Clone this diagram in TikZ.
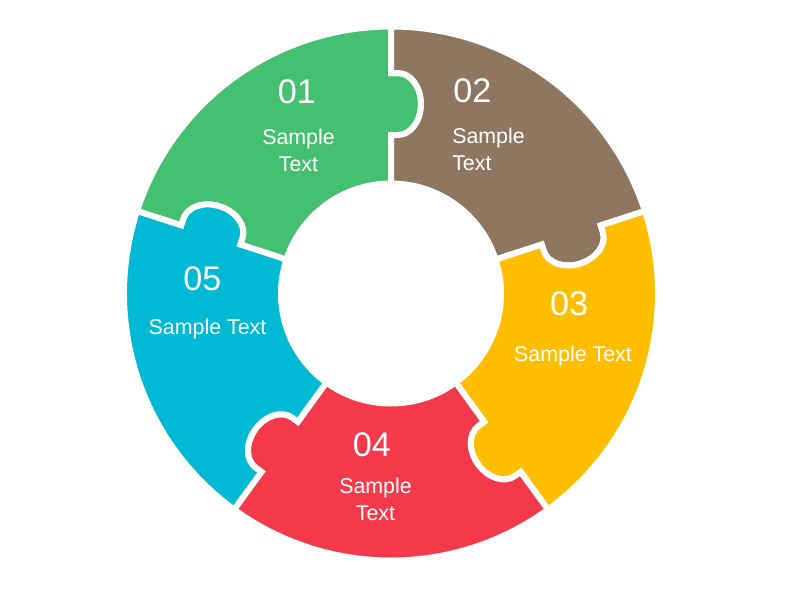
\documentclass[tikz,border=0pt]{standalone}
\usepackage{fontspec}
\setmainfont{Liberation Sans}
\definecolor{PieceGreen}{RGB}{68,192,112}
\definecolor{PieceBrown}{RGB}{142,118,96}
\definecolor{PieceYellow}{RGB}{255,191,0}
\definecolor{PieceRed}{RGB}{243,57,74}
\definecolor{PieceBlue}{RGB}{0,186,212}
\tikzset{
  piece/.style={draw=white,line width=0.15cm},
  numtext/.style={text=white,font=\fontsize{24.3}{29}\selectfont,inner sep=0pt,anchor=base},
  bodytext/.style={text=white,font=\fontsize{15.2}{18.5}\selectfont,inner sep=0pt,
    align=center,anchor=base}
}
% one ring piece, knob on its clockwise side, notch on the other
\newcommand\puzzlepiece[2]{%
  \begin{scope}[rotate=#1]
    \path[piece,fill=#2] (110,0) -- (158.5,0) -- (158.5,-7)
      arc[start angle=180,end angle=360,x radius=31,y radius=23]
      -- (220.5,0) -- (267,0) arc[start angle=0,end angle=72,radius=267]
      {[rotate=72] -- (220.5,0) -- (220.5,-7)
        arc[start angle=0,end angle=-180,x radius=31,y radius=23]
        -- (158.5,0) -- (110,0)}
      arc[start angle=72,end angle=0,radius=110] -- cycle;
  \end{scope}}

\begin{document}
\begin{tikzpicture}[x=0.025cm,y=0.025cm]
  \useasboundingbox (-391,-306.5) rectangle (409,293.5);
  \puzzlepiece{90}{PieceGreen}
  \puzzlepiece{18}{PieceBrown}
  \puzzlepiece{-54}{PieceYellow}
  \puzzlepiece{-126}{PieceRed}
  \puzzlepiece{162}{PieceBlue}
  % labels
  \node[numtext] (num1) at (-94,190.5) {01};
  \node[bodytext] (txt1) at (-92.5,122.5) {Sample\\Text};
  \node[numtext,anchor=base west] (num2) at (62,191.5) {02};
  \node[bodytext,align=left,anchor=base west] (txt2) at (61,123.5) {Sample\\Text};
  \node[numtext] (num3) at (178,-21.5) {03};
  \node[bodytext] (txt3) at (182,-67.5) {Sample Text};
  \node[numtext] (num4) at (-19,-162.5) {04};
  \node[bodytext] (txt4) at (-15.5,-226.5) {Sample\\Text};
  \node[numtext] (num5) at (-188.5,3.5) {05};
  \node[bodytext] (txt5) at (-183.5,-40.5) {Sample Text};
\end{tikzpicture}
\end{document}
